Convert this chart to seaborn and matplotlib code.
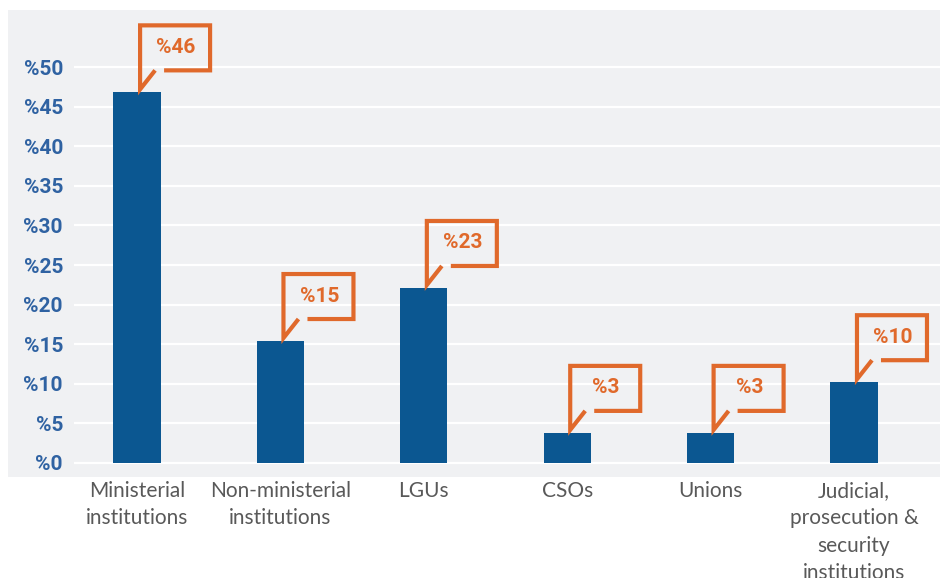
import matplotlib
matplotlib.use("Agg")
import matplotlib.pyplot as plt
import seaborn as sns
from matplotlib.patches import Rectangle
from matplotlib.lines import Line2D
from matplotlib.transforms import Affine2D, ScaledTranslation

# ---- data ----
categories = ["Ministerial\ninstitutions", "Non-ministerial\ninstitutions", "LGUs",
              "CSOs", "Unions", "Judicial,\nprosecution &\nsecurity\ninstitutions"]
values = [46.8, 15.4, 22.1, 3.8, 3.8, 10.2]
value_labels = ["%46", "%15", "%23", "%3", "%3", "%10"]
y_ticks = [0, 5, 10, 15, 20, 25, 30, 35, 40, 45, 50]
y_tick_labels = ["%0", "%5", "%10", "%15", "%20", "%25", "%30", "%35", "%40", "%45", "%50"]

# ---- style ----
BAR = "#0b5791"
ORANGE = "#e0692b"
TICKBLUE = "#2f62a2"
BG = "#f0f1f3"
XLAB = "#595959"

sns.set_style("white")
W, H = 940, 578
fig = plt.figure(figsize=(W / 100, H / 100), dpi=100)
fig.patch.set_facecolor("white")
fig.patches.append(Rectangle((8 / W, 101 / H), 1, 467 / H, transform=fig.transFigure,
                             facecolor=BG, edgecolor="none", zorder=-10))
ax = fig.add_axes([74 / W, 101 / H, (W - 74) / W, 467 / H])
ax.set_facecolor("none")

sns.barplot(x=categories, y=values, color=BAR, saturation=1, width=0.33,
            linewidth=0, ax=ax, zorder=3)

ax.set_xlim(-0.44, 5.60)
ax.set_ylim(-1.77, 57.2)
ax.set_yticks(y_ticks)
ax.set_yticklabels(y_tick_labels, fontfamily="Roboto", fontweight="bold",
                   fontsize=15, color=TICKBLUE)
ax.yaxis.grid(True, color="white", linewidth=1.6, zorder=0)
ax.set_axisbelow(True)
for s in ax.spines.values():
    s.set_visible(False)
ax.tick_params(axis="y", length=0, pad=8)
ax.tick_params(axis="x", length=0, pad=3)
for t in ax.get_xticklabels():
    t.set_fontfamily("Lato")
    t.set_fontsize(15)
    t.set_color(XLAB)
    t.set_linespacing(1.45)
ax.set_xlabel("")
ax.set_ylabel("")

# ---- callouts ----
for i, (v, lab) in enumerate(zip(values, value_labels)):
    base = Affine2D().translate(3, 3) + ScaledTranslation(i, v, ax.transData)
    xs = [24, 70, 70, 0, 0, 15]
    ys = [19, 19, 64, 64, 0, 19]
    line = Line2D(xs, ys, transform=base, color=ORANGE, linewidth=3,
                  solid_joinstyle="miter", solid_capstyle="butt", clip_on=False, zorder=5)
    ax.add_line(line)
    ax.text(0, 0, lab, transform=Affine2D().translate(3 + 36, 3 + 42) +
            ScaledTranslation(i, v, ax.transData),
            ha="center", va="center", color=ORANGE, fontfamily="Roboto",
            fontweight="bold", fontsize=15, zorder=6)

fig.savefig("out.png", dpi=100, facecolor="white")
